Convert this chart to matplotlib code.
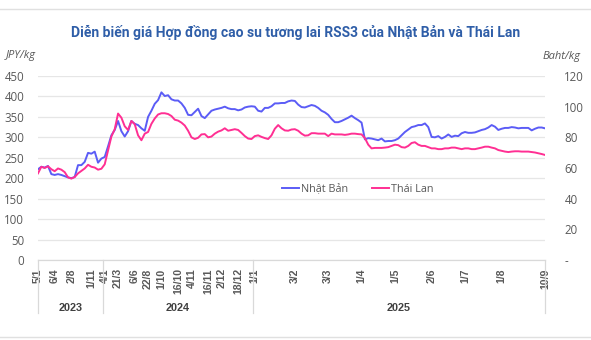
import matplotlib
matplotlib.use("Agg")
import matplotlib.pyplot as plt
import matplotlib.transforms as mtransforms
from matplotlib.lines import Line2D

# Japan RSS3 futures, JPY/kg (one value per category position)
japan = [
    222, 228, 226, 230, 210, 208, 210, 208, 205, 202,
    200, 203, 232, 232, 240, 262, 260, 265, 238, 248,
    252, 278, 305, 318, 340, 315, 302, 315, 340, 333,
    330, 322, 316, 350, 365, 382, 391, 410, 401, 403,
    393, 390, 390, 383, 372, 355, 354, 362, 370, 352,
    347, 356, 365, 368, 370, 372, 375, 371, 369, 369,
    366, 368, 373, 375, 376, 375, 365, 363, 372, 372,
    376, 383, 383, 384, 384, 388, 390, 389, 380, 374,
    373, 376, 379, 377, 372, 365, 361, 355, 345, 337,
    337, 340, 344, 348, 353, 347, 342, 336, 295, 298,
    297, 295, 293, 297, 290, 291, 291, 293, 297, 305,
    313, 319, 325, 327, 330, 330, 334, 325, 301, 300,
    303, 297, 301, 307, 301, 304, 303, 310, 313, 311,
    311, 312, 315, 318, 320, 324, 330, 326, 318, 321,
    323, 323, 325, 324, 322, 323, 323, 323, 317, 321,
    324, 324, 322,
]

# Thailand RSS3 futures, Baht/kg
thailand = [
    56.5, 60.8, 60.0, 61.1, 59.2, 57.9, 59.7, 58.9, 57.3, 53.9,
    53.1, 54.1, 56.5, 58.1, 59.7, 62.1, 60.8, 60.3, 58.9, 59.5,
    62.4, 71.5, 80.5, 85.3, 95.5, 92.8, 87.2, 84.8, 90.7, 88.5,
    81.3, 78.1, 82.4, 83.5, 88.8, 92.3, 94.9, 95.7, 95.7, 95.2,
    93.9, 91.5, 90.9, 89.6, 87.7, 84.3, 80.0, 78.9, 79.7, 81.9,
    82.1, 80.0, 80.5, 82.4, 83.7, 84.5, 85.9, 84.3, 84.8, 85.3,
    84.8, 82.9, 80.8, 79.2, 78.9, 80.8, 81.3, 80.3, 79.5, 78.9,
    81.3, 85.6, 88.0, 85.9, 84.5, 84.3, 85.1, 85.3, 84.3, 82.4,
    81.1, 81.3, 82.7, 82.7, 82.4, 82.4, 82.4, 80.8, 82.4, 81.9,
    81.9, 81.9, 81.6, 81.9, 82.4, 82.4, 82.1, 81.9, 79.5, 75.2,
    72.8, 73.1, 73.1, 73.1, 73.3, 73.6, 74.4, 75.2, 74.9, 73.6,
    73.3, 74.4, 76.3, 76.8, 75.2, 74.4, 74.4, 73.6, 72.8, 72.8,
    72.3, 72.3, 72.8, 72.8, 73.3, 73.3, 72.8, 72.3, 72.8, 72.8,
    72.3, 72.3, 72.8, 73.3, 73.9, 73.9, 73.3, 72.8, 71.7, 71.2,
    70.7, 70.4, 70.7, 70.9, 70.9, 70.7, 70.7, 70.7, 70.4, 70.1,
    69.6, 69.1, 68.5,
]

# Date labels on the category axis and where they sit
tick_labels = ["5/1", "6/4", "2/8", "1/11", "4/1", "21/3", "6/6", "22/8",
               "1/10", "16/10", "4/11", "16/11", "2/12", "18/12", "1/1",
               "3/2", "3/3", "1/4", "1/5", "2/6", "1/7", "1/8", "10/9"]
tick_index = [0, 5, 10, 16, 20, 24, 29, 33, 37, 42, 46, 51, 55, 60, 65,
              77, 87, 97, 107, 118, 128, 139, 152]

years = ["2023", "2024", "2025"]
year_first_tick = ["5/1", "4/1", "1/1"]

left_ticks = [0, 50, 100, 150, 200, 250, 300, 350, 400, 450]
right_ticks = [0, 20, 40, 60, 80, 100, 120]

BLUE = "#5b5cf6"
PINK = "#ff2f93"
GRID = "#e6e6e6"
TXT = "#595959"

fig = plt.figure(figsize=(5.91, 3.40), dpi=100)
ax = fig.add_axes([0.0643, 0.2353, 0.8579, 0.5412])
ax2 = ax.twinx()

x = list(range(len(japan)))
ax.plot(x, japan, color=BLUE, lw=1.4, zorder=3)
ax2.plot(x, thailand, color=PINK, lw=1.4, zorder=3)

n = len(japan) - 1
ax.set_xlim(0, n)
ax.set_ylim(0, 450)
ax2.set_ylim(0, 120)

ax.set_yticks(left_ticks)
ax.set_yticklabels([str(v) for v in left_ticks], fontsize=8.3, color=TXT,
                   family="Open Sans")
ax2.set_yticks(right_ticks)
ax2.set_yticklabels(["-" if v == 0 else str(v) for v in right_ticks],
                    fontsize=8.3, color=TXT, family="Open Sans")
ax.tick_params(axis="y", length=0, pad=10)
ax2.tick_params(axis="y", length=0, pad=14)

ax.yaxis.grid(True, color=GRID, lw=0.9)
ax.set_axisbelow(True)

ax.set_xticks(tick_index)
ax.set_xticklabels(tick_labels, rotation=90, fontsize=7.6, color=TXT,
                   fontweight="bold", family="Liberation Sans")
ax.tick_params(axis="x", length=0, pad=6)

for a in (ax, ax2):
    for s in ("top", "right", "left"):
        a.spines[s].set_visible(False)
    a.spines["bottom"].set_color("#d9d9d9")

# Year groups below the date labels
trans = mtransforms.blended_transform_factory(ax.transData, ax.transAxes)
starts = [tick_index[tick_labels.index(t)] for t in year_first_tick]
bounds = [0] + [s - 0.5 for s in starts[1:]] + [n]
for b in bounds:
    ax.add_line(Line2D([b, b], [0, -0.29], transform=trans, color="#d9d9d9",
                       lw=0.9, clip_on=False))
for i, yr in enumerate(years):
    ax.text((bounds[i] + bounds[i + 1]) / 2, -0.26, yr, transform=trans,
            ha="center", va="center", fontsize=7.8, fontweight="bold",
            color="#404040", family="Liberation Sans")

# Legend inside the plot
leg_handles = [Line2D([], [], color=BLUE, lw=1.4),
               Line2D([], [], color=PINK, lw=1.4)]
ax.legend(leg_handles, ["Nhật Bản", "Thái Lan"], loc="center",
          bbox_to_anchor=(0.63, 0.385), ncol=2, frameon=False,
          handlelength=1.6, handletextpad=0.15,
          columnspacing=2.2, labelcolor=TXT,
          prop={"family": "Open Sans", "size": 7.8})

fig.text(0.5, 0.905, "Diễn biến giá Hợp đồng cao su tương lai RSS3 của Nhật Bản và Thái Lan",
         ha="center", va="center", fontsize=10, fontweight="bold",
         color="#2f5ea8", family="Roboto")
fig.text(0.01, 0.838, "JPY/kg", ha="left", va="center", fontsize=8,
         style="italic", color=TXT, family="Open Sans")
fig.text(0.982, 0.835, "Baht/kg", ha="right", va="center", fontsize=8,
         style="italic", color=TXT, family="Open Sans")

# thin frame rules at top and bottom of the card
for yy in (1 - 9 / 340, 1 - 337 / 340):
    fig.add_artist(Line2D([0, 1], [yy, yy], transform=fig.transFigure,
                          color="#e0e0e0", lw=1.0))

fig.savefig("out.png", dpi=100)
